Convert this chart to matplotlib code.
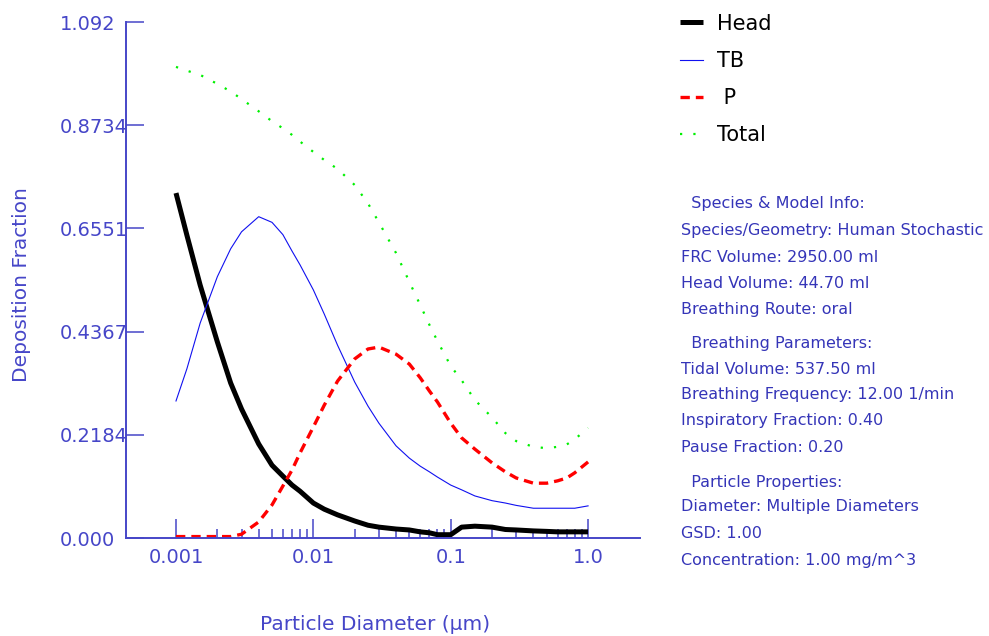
import numpy as np
import matplotlib
matplotlib.use("Agg")
import matplotlib.pyplot as plt
from matplotlib.ticker import FixedLocator, NullFormatter

# particle diameters (um) and deposition fractions per region
diam = np.array([0.001, 0.0012, 0.0015, 0.002, 0.0025, 0.003, 0.004, 0.005, 0.006, 0.007,
                 0.008, 0.01, 0.012, 0.015, 0.02, 0.025, 0.03, 0.04, 0.05, 0.06,
                 0.07, 0.08, 0.1, 0.12, 0.15, 0.2, 0.25, 0.3, 0.4, 0.5,
                 0.6, 0.7, 0.8, 1.0])
head = np.array([0.730, 0.641, 0.535, 0.415, 0.328, 0.273, 0.199, 0.154, 0.131, 0.112,
                 0.099, 0.074, 0.061, 0.049, 0.036, 0.027, 0.023, 0.019, 0.017, 0.013,
                 0.011, 0.007, 0.007, 0.023, 0.025, 0.023, 0.018, 0.017, 0.015, 0.014,
                 0.013, 0.013, 0.013, 0.013])
tb = np.array([0.290, 0.358, 0.455, 0.553, 0.612, 0.648, 0.680, 0.668, 0.642, 0.607,
               0.578, 0.525, 0.474, 0.408, 0.330, 0.279, 0.243, 0.195, 0.169, 0.152,
               0.140, 0.129, 0.112, 0.102, 0.089, 0.079, 0.074, 0.069, 0.063, 0.063,
               0.063, 0.063, 0.063, 0.068])
pul = np.array([0.003, 0.003, 0.003, 0.003, 0.003, 0.008, 0.034, 0.070, 0.110, 0.144,
                0.180, 0.235, 0.281, 0.332, 0.379, 0.400, 0.404, 0.389, 0.368, 0.339,
                0.311, 0.288, 0.243, 0.212, 0.188, 0.159, 0.140, 0.127, 0.116, 0.116,
                0.121, 0.127, 0.138, 0.161])
total = np.array([0.997, 0.989, 0.980, 0.961, 0.945, 0.929, 0.903, 0.882, 0.867, 0.853,
                  0.839, 0.817, 0.800, 0.781, 0.747, 0.708, 0.668, 0.603, 0.542, 0.493,
                  0.451, 0.417, 0.364, 0.334, 0.292, 0.255, 0.222, 0.205, 0.193, 0.190,
                  0.193, 0.198, 0.209, 0.233])

yticks = [0.0, 0.2184, 0.4367, 0.6551, 0.8734, 1.092]
ytick_labels = ["0.000", "0.2184", "0.4367", "0.6551", "0.8734", "1.092"]
xticks = [0.001, 0.01, 0.1, 1.0]
xtick_labels = ["0.001", "0.01", "0.1", "1.0"]

info_lines = [
    ("  Species & Model Info:", 204),
    ("Species/Geometry: Human Stochastic", 231),
    ("FRC Volume: 2950.00 ml", 257),
    ("Head Volume: 44.70 ml", 283),
    ("Breathing Route: oral", 309),
    ("  Breathing Parameters:", 343),
    ("Tidal Volume: 537.50 ml", 369),
    ("Breathing Frequency: 12.00 1/min", 395),
    ("Inspiratory Fraction: 0.40", 421),
    ("Pause Fraction: 0.20", 447),
    ("  Particle Properties:", 482),
    ("Diameter: Multiple Diameters", 507),
    ("GSD: 1.00", 534),
    ("Concentration: 1.00 mg/m^3", 561),
]

axis_col = "#4646C8"
info_col = "#3535B8"
W, H = 989, 636

fig = plt.figure(figsize=(W / 100, H / 100), dpi=100)
ax = fig.add_axes([126 / W, 1 - 538 / H, (640 - 126) / W, (538 - 22) / H])

ax.plot(diam, head, color="black", lw=3.6, label="Head", solid_capstyle="butt")
ax.plot(diam, tb, color="#1010F0", lw=0.8, label="TB")
ax.plot(diam, pul, color="red", lw=2.4, ls=(0, (2.8, 1.8)), label=" P")
ax.plot(diam, total, color="#00F000", lw=1.6, ls=(0, (1, 5)), label="Total")

ax.set_xscale("log")
ax.set_xlim(10 ** -3.364, 10 ** 0.378)
ax.set_ylim(0, 1.092)

for s in ["top", "right"]:
    ax.spines[s].set_visible(False)
for s in ["left", "bottom"]:
    ax.spines[s].set_color(axis_col)
    ax.spines[s].set_linewidth(1.4)

ax.yaxis.set_major_locator(FixedLocator(yticks))
ax.set_yticklabels(ytick_labels)
ax.tick_params(axis="y", direction="in", length=13, width=1.1, color=axis_col,
               labelcolor=axis_col, labelsize=14, pad=47.5)
for lbl in ax.get_yticklabels():
    lbl.set_horizontalalignment("left")

minors = [m * 10.0 ** e for e in (-3, -2, -1) for m in range(2, 10)]
ax.xaxis.set_major_locator(FixedLocator(xticks))
ax.xaxis.set_minor_locator(FixedLocator(minors))
ax.xaxis.set_minor_formatter(NullFormatter())
ax.set_xticklabels(xtick_labels)
ax.tick_params(axis="x", which="major", direction="in", length=13.5, width=1.1,
               color=axis_col, labelcolor=axis_col, labelsize=14, pad=7)
ax.tick_params(axis="x", which="minor", direction="in", length=6.5, width=1.1,
               color=axis_col)

fig.text(22 / W, 1 - 285 / H, "Deposition Fraction", rotation=90, color=axis_col,
         fontsize=14.5, ha="center", va="center")
fig.text(375 / W, 1 - 625 / H, "Particle Diameter (µm)", color=axis_col,
         fontsize=14.5, ha="center", va="center")

fig.legend(loc="upper left", bbox_to_anchor=(661 / W, 1 + 5 / H), frameon=False,
           fontsize=15, handlelength=1.1, handletextpad=0.7, labelspacing=0.82)

for txt, yp in info_lines:
    fig.text(681 / W, 1 - yp / H, txt, color=info_col, fontsize=11.5,
             ha="left", va="center")

fig.savefig("out.png", dpi=100)
